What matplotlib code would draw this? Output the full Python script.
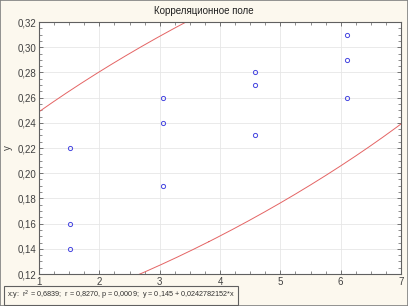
import numpy as np
import matplotlib
matplotlib.use('Agg')
import matplotlib.pyplot as plt
from matplotlib.ticker import FuncFormatter, MultipleLocator
from matplotlib import font_manager

plt.rcParams['font.family'] = ['Liberation Sans', 'DejaVu Sans']

# Observations (x groups, y values)
x_vals = [1.52, 1.52, 1.52, 3.05, 3.05, 3.05, 4.58, 4.58, 4.58, 6.11, 6.11, 6.11]
y_vals = [0.14, 0.16, 0.22, 0.19, 0.24, 0.26, 0.23, 0.27, 0.28, 0.26, 0.29, 0.31]
stats_text = 'x:y:  r$^2$ = 0,6839;  r = 0,8270, p = 0,0009;  y = 0,145 + 0,0242782152*x'
title = 'Корреляционное поле'

x = np.array(x_vals)
y = np.array(y_vals)
n = len(x)

# 95% prediction ellipse
f_crit = 4.1028  # F(2, n-2), 0.95
c = 2 * (n - 1) * (n + 1) / (n * (n - 2)) * f_crit
cov = np.cov(x, y)
vals, vecs = np.linalg.eigh(cov)
t = np.linspace(0, 2 * np.pi, 800)
circle = np.vstack([np.cos(t), np.sin(t)])
ell = vecs @ (np.sqrt(vals * c)[:, None] * circle)
ex = ell[0] + x.mean()
ey = ell[1] + y.mean()

names = {f.name for f in font_manager.fontManager.ttflist}
narrow = 'Liberation Sans Narrow' if 'Liberation Sans Narrow' in names else 'Liberation Sans'
leg_size = 6.3 if narrow == 'Liberation Sans Narrow' else 5.2

bg = '#fcf8ee'
fig = plt.figure(figsize=(4.08, 3.06), dpi=100, facecolor=bg)
ax = fig.add_axes([39 / 408, 1 - 274 / 306, 362 / 408, 252 / 306])
ax.set_facecolor('white')

ax.plot(ex, ey, color='#e46464', lw=0.7)
ax.plot(x, y, 'o', ms=3.0, mfc='none', mec='#4646e0', mew=0.7, ls='none')

ax.set_xlim(1, 7)
ax.set_ylim(0.12, 0.32)
ax.xaxis.set_major_locator(MultipleLocator(1))
ax.xaxis.set_minor_locator(MultipleLocator(0.25))
ax.yaxis.set_major_locator(MultipleLocator(0.02))
ax.yaxis.set_minor_locator(MultipleLocator(0.005))
ax.yaxis.set_major_formatter(FuncFormatter(lambda v, p: f'{v:.2f}'.replace('.', ',')))
ax.xaxis.set_major_formatter(FuncFormatter(lambda v, p: f'{v:.0f}'))
ax.grid(True, which='major', color='#e6e6e6', lw=0.6)
ax.tick_params(which='both', direction='in', top=True, right=True,
               labelsize=7, labelcolor='#404040', color='#606060')
ax.tick_params(which='major', length=3, width=0.6, pad=2)
ax.tick_params(which='minor', length=2, width=0.5)
for s in ax.spines.values():
    s.set_color('#606060')
    s.set_linewidth(0.8)

ax.set_ylabel('y', fontsize=7, color='#404040', labelpad=3)
fig.text(0.5, 1 - 11 / 306, title, ha='center', va='center', fontsize=7, color='#202020')

fig.text(7 / 408, 1 - 295.5 / 306, stats_text, ha='left', va='center', fontsize=leg_size,
         color='#303030', family=[narrow, 'DejaVu Sans'],
         bbox=dict(boxstyle='square,pad=0.35', fc=bg, ec='#606060', lw=0.8))

# outer border
fig.patches.append(plt.Rectangle((0, 0), 1, 1, transform=fig.transFigure, fill=False,
                                 ec='#808080', lw=1.2))

fig.savefig('out.png', dpi=100, facecolor=bg)
